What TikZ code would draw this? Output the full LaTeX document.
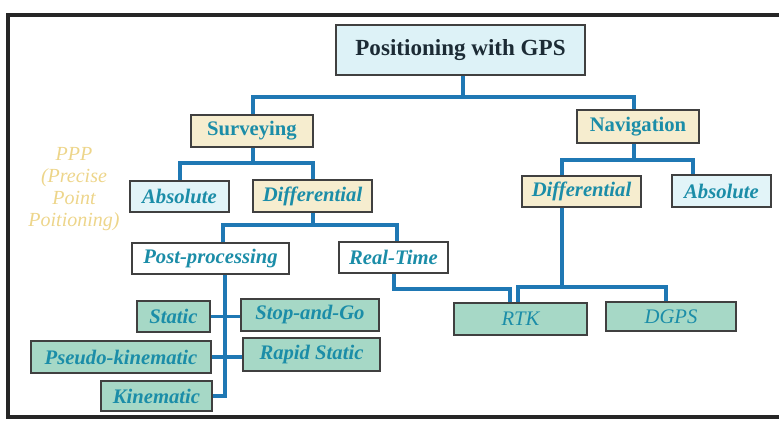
\documentclass[tikz,border=0pt]{standalone}
\usepackage{fontspec}
\setmainfont{Liberation Serif}
\usepackage{tikz}
\usepackage{xcolor}

\definecolor{linkblue}{HTML}{1F78B4}
\definecolor{titlefill}{HTML}{DDF2F7}
\definecolor{sandfill}{HTML}{F6EDCF}
\definecolor{icefill}{HTML}{E2F4F8}
\definecolor{mintfill}{HTML}{A6D8C6}
\definecolor{tealtext}{HTML}{1B8DA8}
\definecolor{ppptext}{HTML}{EDD58A}
\definecolor{titletext}{HTML}{1C2B35}

\tikzset{
  box/.style={draw=black!75, line width=0.9pt, inner sep=0pt, text=tealtext},
  titlebox/.style={box, fill=titlefill, text=titletext, font=\fontsize{17.3}{20}\selectfont\bfseries},
  headbox/.style={box, fill=sandfill, font=\fontsize{15.5}{18}\selectfont\bfseries},
  sandbox/.style={box, fill=sandfill, font=\fontsize{15.5}{18}\selectfont\bfseries\itshape},
  icebox/.style={box, fill=icefill, font=\fontsize{15.5}{18}\selectfont\bfseries\itshape},
  plainbox/.style={box, fill=white, font=\fontsize{15.5}{18}\selectfont\bfseries\itshape},
  mintbox/.style={box, fill=mintfill, font=\fontsize{15.5}{18}\selectfont\bfseries\itshape},
  rtkbox/.style={box, fill=mintfill, font=\fontsize{15.5}{18}\selectfont\itshape},
  link/.style={draw=linkblue, line width=2.6pt}
}

\begin{document}
\begin{tikzpicture}[x=0.75pt,y=0.75pt,yscale=-1,xscale=1]
\useasboundingbox (0,0) rectangle (779,423);

%Frame
    \draw [line width=2.4pt, black!85] (779,15) -- (8,15) -- (8,417) -- (779,417);

%Boxes
    \node [titlebox, minimum width=186.75pt, minimum height=37.5pt] (gps) at (460.5,50) {Positioning with GPS};
    \node [headbox, minimum width=91.5pt, minimum height=24pt] (surv) at (252,131) {Surveying};
    \node [headbox, minimum width=91.5pt, minimum height=24.75pt] (navi) at (638,126.5) {Navigation};
    \node [icebox, minimum width=74.25pt, minimum height=23.25pt] (absL) at (179.5,196.5) {Absolute};
    \node [sandbox, minimum width=89.25pt, minimum height=24pt] (difL) at (312.5,196) {Differential};
    \node [sandbox, minimum width=89.25pt, minimum height=23.25pt] (difR) at (581.5,191.5) {Differential};
    \node [icebox, minimum width=74.25pt, minimum height=24pt] (absR) at (721.5,191) {Absolute};
    \node [plainbox, minimum width=117.75pt, minimum height=23.25pt] (post) at (210.5,258.5) {Post-processing};
    \node [plainbox, minimum width=81.75pt, minimum height=23.25pt] (real) at (393.5,257.5) {Real-Time};
    \node [rtkbox, minimum width=99.75pt, minimum height=24pt] (rtk) at (520.5,319) {RTK};
    \node [rtkbox, minimum width=97.5pt, minimum height=21.75pt] (dgps) at (671,316.5) {DGPS};
    \node [mintbox, minimum width=54.75pt, minimum height=23.25pt] (stat) at (173.5,316.5) {Static};
    \node [mintbox, minimum width=103.5pt, minimum height=24pt] (stopgo) at (310,315) {Stop-and-Go};
    \node [mintbox, minimum width=135pt, minimum height=24pt] (pseudo) at (121,357) {Pseudo-kinematic};
    \node [mintbox, minimum width=102.75pt, minimum height=24.75pt] (rapid) at (311.5,354.5) {Rapid Static};
    \node [mintbox, minimum width=83.25pt, minimum height=22.5pt] (kine) at (156.5,396) {Kinematic};

% Text Node
    \node [align=center, text=ppptext, font=\fontsize{15}{16.5}\selectfont\itshape] (ppp) at (74,189) {PPP\\(Precise\\Point\\Poitioning)};

%Connectors
    \coordinate (top) at (463,97);
    \draw [link] (463,0 |- gps.south) -- (top);
    \draw [link] (253,0 |- surv.north) |- (top) -| (634,0 |- navi.north);
    \draw [link] (253,0 |- surv.south) -- (253,163);
    \draw [link] (180,0 |- absL.north) |- (253,163) -| (313,0 |- difL.north);
    \draw [link] (634,0 |- navi.south) -- (634,160);
    \draw [link] (562,0 |- difR.north) |- (634,160) -| (693,0 |- absR.north);
    \draw [link] (313,0 |- difL.south) -- (313,225);
    \draw [link] (223,0 |- post.north) |- (313,225) -| (397,0 |- real.north);
    \draw [link] (394,0 |- real.south) |- (510,289) -- (510,0 |- rtk.north);
    \draw [link] (562,0 |- difR.south) -- (562,287);
    \draw [link] (518,0 |- rtk.north) |- (562,287) -| (666,0 |- dgps.north);
    \draw [link] (225,0 |- post.south) |- (kine.east);
    \draw [link] (stat.east) -- (stat.east -| stopgo.west);
    \draw [link] (pseudo.east) -- (pseudo.east -| rapid.west);

\end{tikzpicture}
\end{document}
